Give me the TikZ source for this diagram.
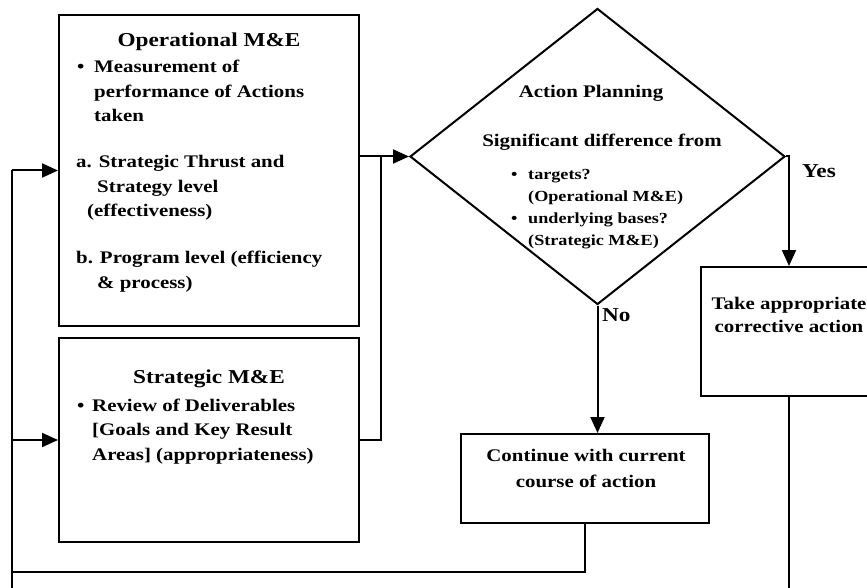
\documentclass[tikz,border=0pt]{standalone}
\usepackage{fontspec}
\setmainfont{Liberation Serif}[FakeStretch=1.18]
\usetikzlibrary{arrows.meta,shapes.geometric}
\tikzset{
  box/.style={draw,line width=2pt,rectangle,inner sep=0pt},
  conn/.style={line width=2pt},
  arr/.style={line width=2pt,-{Triangle[length=16pt,width=14pt]}},
  txt/.style={inner sep=0pt,font=\bfseries\fontsize{17.7}{22}\selectfont},
  ttl/.style={inner sep=0pt,font=\bfseries\fontsize{19.7}{24}\selectfont},
  sml/.style={inner sep=0pt,font=\bfseries\fontsize{15.4}{20}\selectfont},
}
\begin{document}
\begin{tikzpicture}[x=1pt,y=-1pt]
\clip (0,0) rectangle (867,588);
% boxes
\node[box,minimum width=300pt,minimum height=311pt] (op) at (209,170.5) {};
\node[box,minimum width=300pt,minimum height=204pt] (st) at (209,440) {};
\node[draw,line width=2pt,diamond,inner sep=0pt,minimum width=375pt,minimum height=296pt] (dia) at (597.5,156.5) {};
\node[box,minimum width=176pt,minimum height=129pt] (take) at (789,331.5) {};
\node[box,minimum width=248pt,minimum height=89pt] (cont) at (585,478.5) {};
% operational text
\node[ttl,anchor=base] (o0) at (209,47) {Operational M\&E};
\node[txt,anchor=base west] (ob) at (77,73) {\textbullet};
\node[txt,anchor=base west] (o1) at (94,73) {Measurement of};
\node[txt,anchor=base west] (o2) at (94,98) {performance of Actions};
\node[txt,anchor=base west] (o3) at (94,122) {taken};
\node[txt,anchor=base west] (o4) at (76,168) {a. Strategic Thrust and};
\node[txt,anchor=base west] (o5) at (97,193) {Strategy level};
\node[txt,anchor=base west] (o6) at (87,217) {(effectiveness)};
\node[txt,anchor=base west] (o7) at (76,263) {b. Program level (efficiency};
\node[txt,anchor=base west] (o8) at (97,288) {\& process)};
% strategic text
\node[ttl,anchor=base] (s0) at (209,383) {Strategic M\&E};
\node[txt,anchor=base west] (sb) at (77,411) {\textbullet};
\node[txt,anchor=base west] (s1) at (92,411) {Review of Deliverables};
\node[txt,anchor=base west] (s2) at (92,435) {[Goals and Key Result};
\node[txt,anchor=base west] (s3) at (92,460) {Areas] (appropriateness)};
% diamond text
\node[txt,anchor=base] (d0) at (591,98) {Action Planning};
\node[txt,anchor=base] (d1) at (602,147) {Significant difference from};
\node[sml,anchor=base west] (db1) at (511,180) {\textbullet};
\node[sml,anchor=base west] (d2) at (528,180) {targets?};
\node[sml,anchor=base west] (d3) at (528,201) {(Operational M\&E)};
\node[sml,anchor=base west] (db2) at (511,223) {\textbullet};
\node[sml,anchor=base west] (d4) at (528,223) {underlying bases?};
\node[sml,anchor=base west] (d5) at (528,245) {(Strategic M\&E)};
% other labels
\node[ttl,anchor=base west] (yes) at (802,178) {Yes};
\node[ttl,anchor=base west] (no) at (602,321) {No};
\node[txt,anchor=base] (c1) at (586,461) {Continue with current};
\node[txt,anchor=base] (c2) at (586,487) {course of action};
\node[txt,anchor=base] (k1) at (789,309) {Take appropriate};
\node[txt,anchor=base] (k2) at (789,332) {corrective action};
% connector helpers
\path (dia.west) ++(-28,0) coordinate (j);
\coordinate (bl) at (12,588);
\coordinate (lop) at (12,170.5);
\coordinate (lb) at (12,572);
\coordinate (tb) at (789,588);
% connectors
\draw[arr] (j -| op.east) -- (dia.west);
\draw[conn] (st.east) -| (j);
\draw[conn] (bl) -- (lop);
\draw[arr] (lop) -- (op.west);
\draw[arr] (st.west -| lop) -- (st.west);
\draw[conn] (cont.south) |- (lb);
\draw[arr] (dia.east) -| (take.north);
\draw[arr] (dia.south) -- (dia.south |- cont.north);
\draw[conn] (take.south) -- (tb);
\end{tikzpicture}
\end{document}
